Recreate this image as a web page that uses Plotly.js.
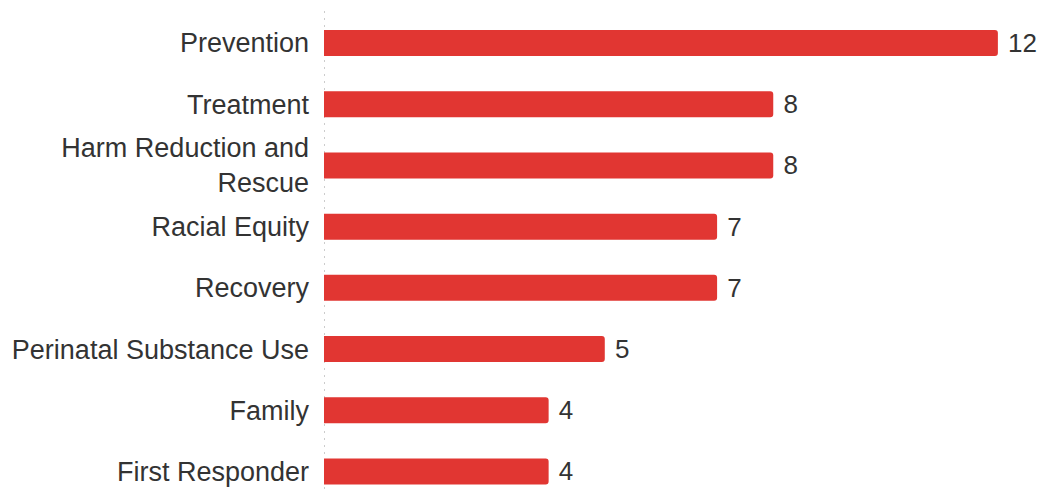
<!DOCTYPE html>
<html>
<head>
<meta charset="utf-8">
<script src="https://cdn.plot.ly/plotly-3.0.1.min.js"></script>
<style>html,body{margin:0;padding:0;background:#fff;}#chart{width:1040px;height:489px;}</style>
</head>
<body>
<div id="chart"></div>
<script>
const categories = ["Prevention", "Treatment", "Harm Reduction and<br>Rescue", "Racial Equity", "Recovery", "Perinatal Substance Use", "Family", "First Responder"];
const counts = [12, 8, 8, 7, 7, 5, 4, 4];

const FONT = 'Liberation Sans, Arial, sans-serif';

const trace = {
  type: 'bar',
  orientation: 'h',
  y: categories,
  x: counts,
  marker: {color: '#e13632', cornerradius: 3},
  text: counts.map(v => ' ' + v),
  textposition: 'outside',
  constraintext: 'none',
  textfont: {family: FONT, size: 26, color: '#333333'},
  cliponaxis: false,
  hoverinfo: 'none'
};

const layout = {
  width: 1040,
  height: 489,
  margin: {l: 324, r: 0, t: 8, b: 0, pad: 0},
  paper_bgcolor: '#ffffff',
  plot_bgcolor: '#ffffff',
  showlegend: false,
  bargap: 0.575,
  font: {family: FONT, size: 26, color: '#333333'},
  xaxis: {
    range: [0, 12.75],
    showticklabels: false,
    showgrid: false,
    zeroline: false,
    showline: false,
    fixedrange: true
  },
  yaxis: {
    type: 'category',
    categoryorder: 'array',
    categoryarray: categories,
    range: [7.286, -0.572],
    automargin: false,
    showgrid: false,
    zeroline: false,
    showline: false,
    ticks: '',
    ticklabelstandoff: 14,
    tickfont: {family: FONT, size: 27, color: '#333333'},
    fixedrange: true
  },
  shapes: [{
    type: 'line', layer: 'below',
    xref: 'x', yref: 'paper',
    x0: 0, x1: 0, y0: 0, y1: 1,
    line: {color: '#cccccc', width: 2, dash: '2px,5px'}
  }]
};

Plotly.newPlot('chart', [trace], layout, {displayModeBar: false, staticPlot: true});
</script>
</body>
</html>
